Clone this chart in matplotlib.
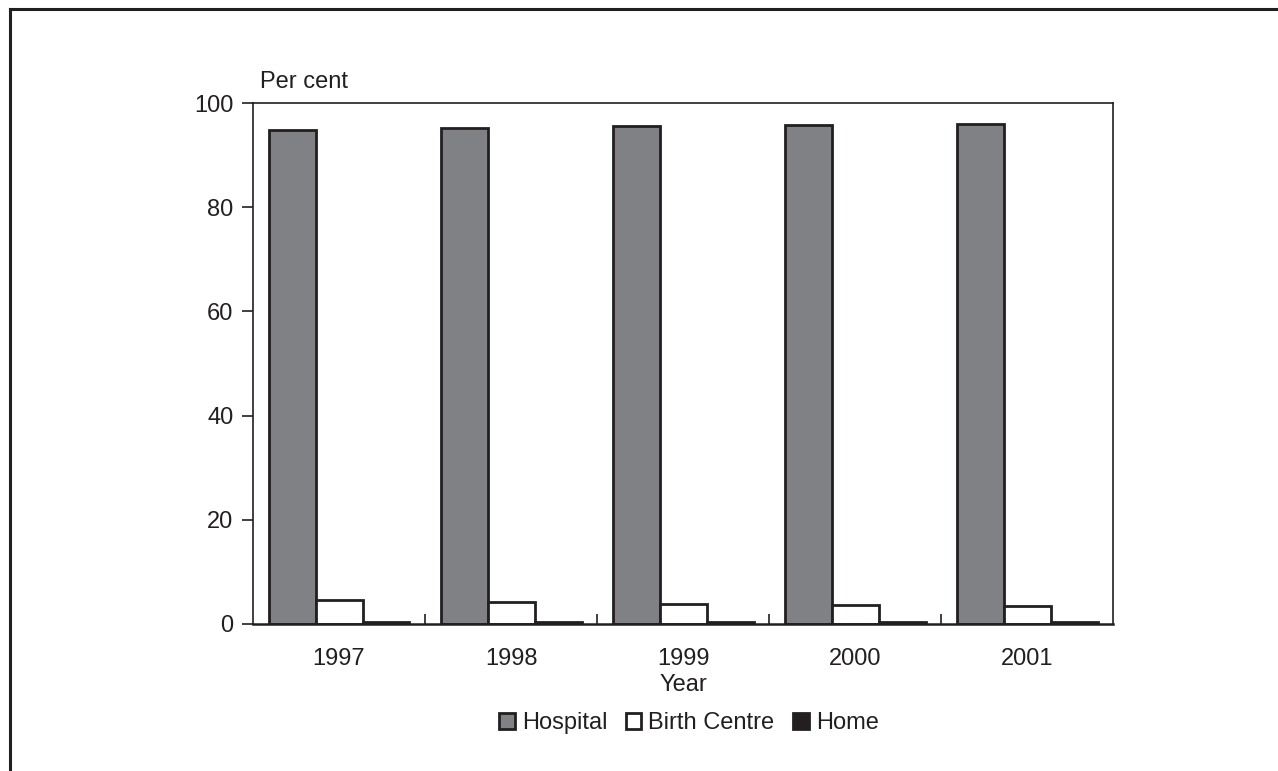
import matplotlib.pyplot as plt
import numpy as np
from matplotlib.lines import Line2D

plt.rcParams['font.family'] = ['Liberation Sans', 'DejaVu Sans']

# --- data ---
years = ['1997', '1998', '1999', '2000', '2001']
hospital = [94.8, 95.2, 95.6, 95.8, 96.0]
birth_centre = [4.6, 4.2, 3.9, 3.7, 3.4]
home = [0.3, 0.3, 0.3, 0.3, 0.3]

dark = '#231f20'
fig = plt.figure(figsize=(12.78, 7.71), dpi=100)
ax = fig.add_axes([0.198, 0.1907, 0.673, 0.6757])

x = np.arange(len(years))
w = 0.273
ax.bar(x - w, hospital, w, color='#808184', edgecolor=dark, linewidth=2.0, label='Hospital')
ax.bar(x, birth_centre, w, color='white', edgecolor=dark, linewidth=2.0, label='Birth Centre')
ax.bar(x + w, home, w, color=dark, edgecolor=dark, linewidth=2.0, label='Home')

ax.set_xlim(-0.5, len(years) - 0.5)
ax.set_ylim(0, 100)
ax.set_yticks([0, 20, 40, 60, 80, 100])
ax.set_xticks(x)
ax.set_xticklabels(years)
ax.set_xticks(np.arange(0.5, len(years) - 0.5), minor=True)
ax.tick_params(axis='x', which='major', length=0, pad=17, labelsize=17, colors=dark)
ax.tick_params(axis='x', which='minor', direction='in', length=7, width=1.2, color=dark)
ax.tick_params(axis='y', direction='out', length=8, width=1.2, pad=6, labelsize=17, colors=dark)

for s in ax.spines.values():
    s.set_color(dark)
    s.set_linewidth(1.2)
ax.spines['bottom'].set_linewidth(1.8)

ax.set_xlabel('Year', fontsize=17, color=dark, labelpad=3)
fig.text(260 / 1278, 1 - 82 / 771, 'Per cent', fontsize=17, color=dark, va='center', ha='left')

fig.legend(loc='center', bbox_to_anchor=(689 / 1278, 1 - 723 / 771), ncol=3, frameon=False,
           fontsize=17, handlelength=0.65, handleheight=0.65, handletextpad=0.3,
           columnspacing=0.8, labelcolor=dark)

# outer frame (top and left only)
fig.add_artist(Line2D([10 / 1278, 1], [1 - 9 / 771, 1 - 9 / 771], transform=fig.transFigure,
                      color=dark, linewidth=2.2))
fig.add_artist(Line2D([10 / 1278, 10 / 1278], [0, 1 - 9 / 771], transform=fig.transFigure,
                      color=dark, linewidth=2.2))

fig.savefig('out.png', dpi=100, facecolor='white')
